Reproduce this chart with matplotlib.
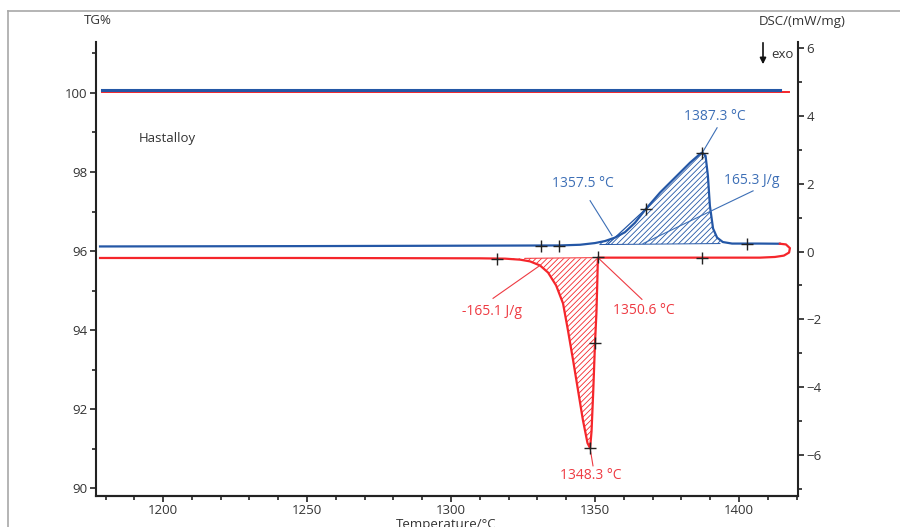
import numpy as np
import matplotlib
matplotlib.use('Agg')
import matplotlib.pyplot as plt
from matplotlib.ticker import MultipleLocator

plt.rcParams['font.family'] = ['Open Sans', 'DejaVu Sans']
plt.rcParams['hatch.linewidth'] = 0.6

# TG curves (constant)
tg_heat_T = [1178.7, 1414.2]
tg_heat = [100.08, 100.08]
tg_cool_T = [1178.7, 1417.4]
tg_cool = [100.03, 100.03]

# DSC heating (blue)
heat_T = [1178.1, 1247.6, 1317.0, 1337.8, 1344.8, 1350.0, 1353.5, 1356.9, 1360.4,
          1363.9, 1367.7, 1372.6, 1377.8, 1383.0, 1386.5, 1387.3, 1388.4, 1389.2,
          1389.9, 1391.0, 1392.4, 1394.4, 1397.6, 1407.3, 1414.2]
heat_dsc = [0.15, 0.16, 0.175, 0.18, 0.20, 0.25, 0.31, 0.41, 0.57,
            0.85, 1.26, 1.74, 2.18, 2.62, 2.88, 2.92, 2.82, 2.24,
            1.35, 0.68, 0.41, 0.28, 0.235, 0.235, 0.23]

# DSC cooling (red), starting at the turning point
cool_T = [1414.2, 1416.3, 1417.7, 1417.4, 1415.6, 1412.5, 1407.3, 1387.2, 1369.1,
          1351.0, 1350.8, 1350.5, 1350.0, 1349.4, 1348.8, 1348.3, 1347.4, 1345.8,
          1344.1, 1342.4, 1340.6, 1338.9, 1336.5, 1333.7, 1330.9, 1327.4, 1324.0,
          1318.8, 1310.1, 1247.6, 1178.1]
cool_dsc = [0.23, 0.21, 0.10, -0.03, -0.12, -0.16, -0.18, -0.18, -0.18,
            -0.18, -0.9, -1.8, -2.7, -4.1, -5.3, -5.80, -5.65, -4.97,
            -4.09, -3.21, -2.32, -1.53, -1.0, -0.62, -0.41, -0.29, -0.24,
            -0.21, -0.20, -0.19, -0.19]

heat_marks_T = [1331.25, 1337.5, 1367.7, 1387.3, 1402.8]
heat_marks = [0.16, 0.16, 1.26, 2.92, 0.21]
cool_marks_T = [1316.0, 1350.9, 1349.9, 1348.3, 1387.2]
cool_marks = [-0.21, -0.17, -2.71, -5.80, -0.18]

blue = '#2457a6'
blue_txt = '#3d6fb6'
red = '#f5262b'
red_txt = '#ee3a42'
grey = '#333333'

fig = plt.figure(figsize=(9, 5.27), dpi=100)
ax1 = fig.add_axes([96/900, 1-496/527, 702/900, 454/527])
ax2 = ax1.twinx()

ax1.set_xlim(1176.7, 1420.5)
ax1.set_ylim(89.8, 101.29)
ax2.set_ylim(-7.21, 6.18)

ax1.plot(tg_cool_T, tg_cool, color=red, lw=1.4, zorder=3)
ax1.plot(tg_heat_T, tg_heat, color=blue, lw=2.2, zorder=3)

# hatched peak areas
hT = np.array(heat_T)
hD = np.array(heat_dsc)
fine = np.linspace(1351.7, 1393.4, 300)
base_h = np.interp(fine, [1351.7, 1393.4], [0.206, 0.235])
curve_h = np.interp(fine, hT, hD)
ax2.fill_between(fine, base_h, curve_h, where=curve_h > base_h, facecolor='none',
                 edgecolor=blue, hatch='//////', lw=0)

# red: left edge and right edge separately
left_T = np.array(cool_T[15:][::-1])
left_D = np.array(cool_dsc[15:][::-1])
right_T = np.array(cool_T[9:16][::-1])
right_D = np.array(cool_dsc[9:16][::-1])
lev = np.linspace(-5.8, -0.2, 300)
xl = np.interp(lev, left_D[::-1], left_T[::-1])
xr = np.interp(lev, right_D, right_T)
ax2.fill_betweenx(lev, xl, xr, facecolor='none', edgecolor=red, hatch='//////', lw=0)

ax2.plot(heat_T, heat_dsc, color=blue, lw=1.6, zorder=4)
ax2.plot(cool_T, cool_dsc, color=red, lw=1.6, zorder=4)

# onset tangent and integration baselines
ax2.plot([1354.5, 1367.7], [0.22, 1.26], color=blue, lw=0.9)
ax2.plot([1351.7, 1393.4], [0.206, 0.235], color=blue, lw=0.7)
ax2.plot([1325.7, 1351.0], [-0.20, -0.18], color=red, lw=0.7)

ax2.plot(heat_marks_T, heat_marks, '+', color='#222222', ms=8, mew=1.0, zorder=6)
ax2.plot(cool_marks_T, cool_marks, '+', color='#222222', ms=8, mew=1.0, zorder=6)

# labels with leaders
def label(txt, xy, xytext, lead, color):
    ax2.plot([lead[0], xy[0]], [lead[1], xy[1]], color=color, lw=0.8, zorder=5)
    ax2.text(xytext[0], xytext[1], txt, color=color, fontsize=10,
             ha='center', va='center')

label('1387.3 °C', (1387.3, 2.92), (1391.7, 3.97), (1392.4, 3.65), blue_txt)
label('1357.5 °C', (1355.9, 0.47), (1345.8, 2.0), (1348.3, 1.5), blue_txt)
label('165.3 J/g', (1366.7, 0.235), (1404.5, 2.09), (1404.9, 1.79), blue_txt)
label('-165.1 J/g', (1330.9, -0.41), (1314.2, -1.76), (1314.6, -1.38), red_txt)
label('1350.6 °C', (1351.0, -0.18), (1367.0, -1.74), (1366.3, -1.41), red_txt)
label('1348.3 °C', (1348.3, -5.80), (1348.6, -6.62), (1349.3, -6.32), red_txt)

ax1.text(1191.7, 98.85, 'Hastalloy', color=grey, fontsize=9.5, va='center')

# axes styling
for a in (ax1, ax2):
    a.spines['top'].set_visible(False)
    for s in ('left', 'right', 'bottom'):
        a.spines[s].set_linewidth(1.5)
        a.spines[s].set_color('#222222')
ax1.spines['right'].set_visible(False)
ax2.spines['left'].set_visible(False)

ax1.xaxis.set_major_locator(MultipleLocator(50))
ax1.xaxis.set_minor_locator(MultipleLocator(10))
ax1.yaxis.set_major_locator(MultipleLocator(2))
ax1.yaxis.set_minor_locator(MultipleLocator(1))
ax2.yaxis.set_major_locator(MultipleLocator(2))
ax2.yaxis.set_minor_locator(MultipleLocator(1))
for a in (ax1, ax2):
    a.tick_params(which='major', length=4, width=1.2, colors='#222222',
                  labelcolor=grey, labelsize=9.5, pad=2)
    a.tick_params(which='minor', length=3, width=1.2, colors='#222222')
ax1.set_yticks([90, 92, 94, 96, 98, 100])

fig.text(98/900, 1-21/527, 'TG%', color=grey, fontsize=9.5, ha='center', va='center')
fig.text(802/900, 1-21/527, 'DSC/(mW/mg)', color=grey, fontsize=9.5, ha='center', va='center')
fig.text(446/900, 1-518/527, 'Temperature/°C', color=grey, fontsize=9.5, ha='center', va='top')
fig.text(771/900, 1-55/527, 'exo', color=grey, fontsize=9.5, ha='left', va='center')
ax2.annotate('', xy=(763/900, 1-67/527), xytext=(763/900, 1-40/527),
             xycoords='figure fraction', textcoords='figure fraction',
             arrowprops=dict(arrowstyle='-|>', color='#111111', lw=1.2,
                             mutation_scale=9))

# panel border
fig.add_artist(plt.Line2D([8/900, 1], [1-11/527, 1-11/527], transform=fig.transFigure,
                          color='#a8a8a8', lw=1.2))
fig.add_artist(plt.Line2D([8/900, 8/900], [0, 1-11/527], transform=fig.transFigure,
                          color='#a8a8a8', lw=1.2))

fig.savefig('out.png', dpi=100)
